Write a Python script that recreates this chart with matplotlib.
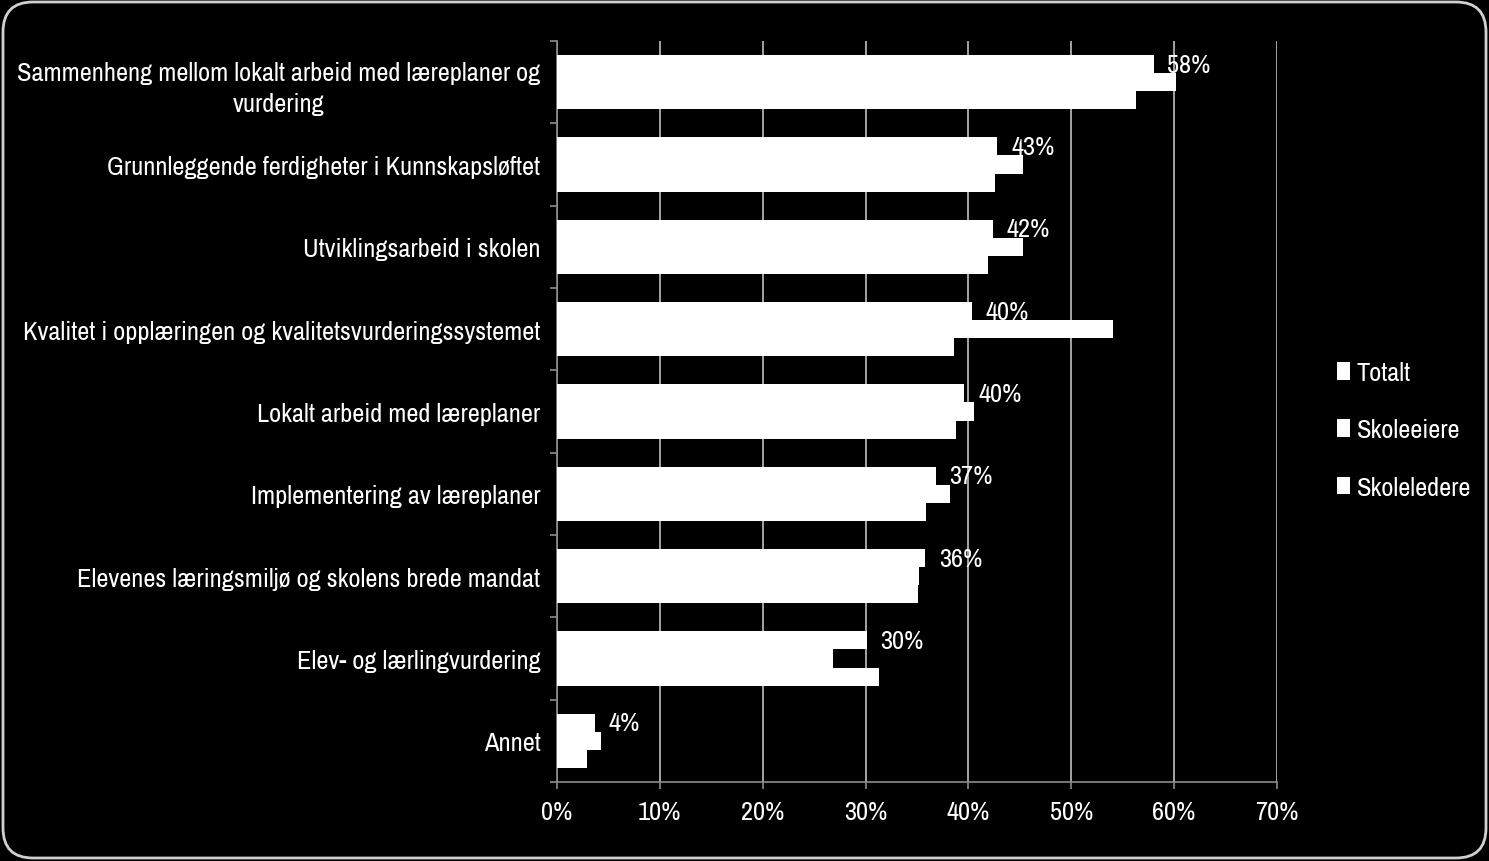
import matplotlib
matplotlib.use('Agg')
import matplotlib.pyplot as plt
import numpy as np
from matplotlib import font_manager
from matplotlib.patches import FancyBboxPatch

# Kategorier og verdier (andel i %)
kategorier = [
    'Sammenheng mellom lokalt arbeid med læreplaner og\nvurdering',
    'Grunnleggende ferdigheter i Kunnskapsløftet',
    'Utviklingsarbeid i skolen',
    'Kvalitet i opplæringen og kvalitetsvurderingssystemet',
    'Lokalt arbeid med læreplaner',
    'Implementering av læreplaner',
    'Elevenes læringsmiljø og skolens brede mandat',
    'Elev- og lærlingvurdering',
    'Annet',
]
totalt = [58.0, 42.8, 42.4, 40.3, 39.6, 36.8, 35.8, 30.1, 3.7]
skoleeiere = [60.2, 45.3, 45.3, 54.1, 40.5, 38.2, 35.2, 26.8, 4.3]
skoleledere = [56.3, 42.6, 41.9, 38.6, 38.8, 35.9, 35.1, 31.3, 2.9]
etiketter = ['58%', '43%', '42%', '40%', '40%', '37%', '36%', '30%', '4%']
serier = ['Totalt', 'Skoleeiere', 'Skoleledere']
xticks = [0, 10, 20, 30, 40, 50, 60, 70]

# Smal skrift hvis den finnes, ellers Liberation Sans
smale = sorted({f.name for f in font_manager.fontManager.ttflist
                if 'Narrow' in f.name or 'Condensed' in f.name})
familie = smale[0] if smale else 'Liberation Sans'
plt.rcParams['font.family'] = [familie, 'DejaVu Sans']

# Finn skriftstørrelse slik at lengste etikett blir ca. 518 px bred
fig = plt.figure(figsize=(14.89, 8.62), dpi=100, facecolor='black')
r = fig.canvas.get_renderer()
t = fig.text(0, 0, kategorier[3], fontsize=18)
bredde = t.get_window_extent(renderer=r).width
t.remove()
fs = min(21, 18 * 518 / bredde)

ax = fig.add_axes([0.3741, 0.0916, 0.4835, 0.8597])
ax.set_facecolor('black')

y = np.arange(len(kategorier))
h = 0.22
b1 = ax.barh(y - h, totalt, height=h, color='white', zorder=3, label=serier[0])
b2 = ax.barh(y, skoleeiere, height=h, color='white', zorder=3, label=serier[1])
b3 = ax.barh(y + h, skoleledere, height=h, color='white', zorder=3, label=serier[2])

ax.bar_label(b1, labels=etiketter, padding=10, color='white', fontsize=fs, zorder=4)

ax.set_xlim(0, 70)
ax.set_ylim(len(kategorier) - 0.5, -0.5)
ax.set_xticks(xticks)
ax.set_xticklabels([f'{v}%' for v in xticks])
ax.set_yticks(y)
ax.set_yticklabels(kategorier, multialignment='center', linespacing=1.4)
ax.set_yticks(np.arange(len(kategorier) + 1) - 0.5, minor=True)

ax.tick_params(axis='y', which='major', length=0, pad=12, labelcolor='white', labelsize=fs)
ax.tick_params(axis='y', which='minor', length=5, width=1.2, color='#8c8c8c', direction='out')
ax.tick_params(axis='x', length=5, width=1.2, color='#8c8c8c', labelcolor='white',
               labelsize=fs, pad=8)

ax.grid(axis='x', color='#bfbfbf', linewidth=1.2, zorder=0)
for s in ['top', 'right']:
    ax.spines[s].set_visible(False)
for s in ['left', 'bottom']:
    ax.spines[s].set_color('#8c8c8c')
    ax.spines[s].set_linewidth(1.2)

leg = fig.legend(handles=[b1, b2, b3], labels=serier, loc='center left',
                 bbox_to_anchor=(0.882, 0.5), frameon=False, fontsize=fs,
                 labelcolor='white', handlelength=0.5, handleheight=0.65,
                 handletextpad=0.25, labelspacing=1.3)

# Avrundet ramme rundt hele figuren
ramme = FancyBboxPatch((0.03, 0.03), 14.83, 8.56,
                       boxstyle='round,pad=0,rounding_size=0.3',
                       transform=fig.dpi_scale_trans, facecolor='none',
                       edgecolor='#d0d0d0', linewidth=2.0)
fig.patches.append(ramme)

fig.savefig('out.png', dpi=100, facecolor='black')
